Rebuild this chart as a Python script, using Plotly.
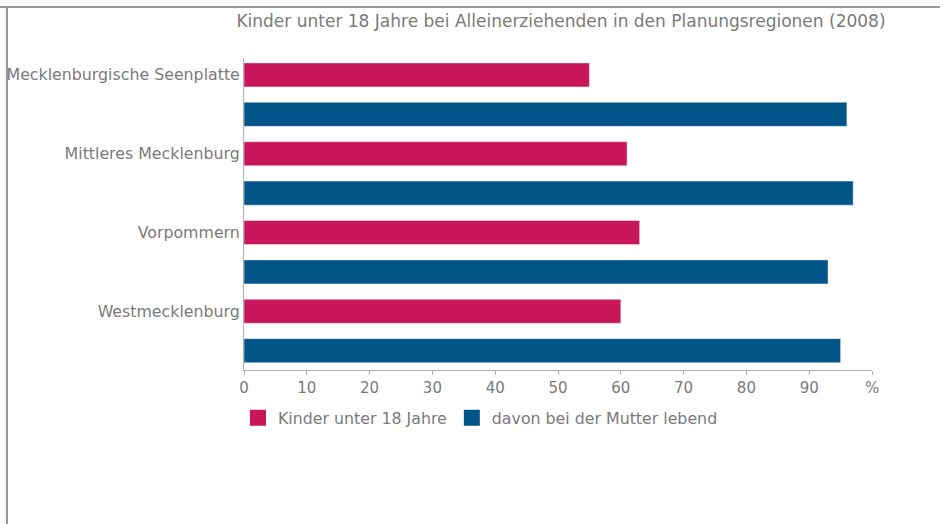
import plotly.graph_objects as go

regions = ["Mecklenburgische Seenplatte", "Mittleres Mecklenburg", "Vorpommern", "Westmecklenburg"]
kinder = [55, 61, 63, 60]
mutter = [96, 97, 93, 95]
series_names = ["Kinder unter 18 Jahre", "davon bei der Mutter lebend"]
x_ticks = [0, 10, 20, 30, 40, 50, 60, 70, 80, 90, 100]
x_ticktext = ["0", "10", "20", "30", "40", "50", "60", "70", "80", "90", "%"]

PINK = "#C8175B"
BLUE = "#025589"
FONT = "DejaVu Sans"
GREY = "#7a7a7a"

pink_pos = [2 * i for i in range(len(regions))]
blue_pos = [2 * i + 1 for i in range(len(regions))]

fig = go.Figure()
fig.add_trace(go.Bar(x=kinder, y=pink_pos, orientation="h", marker_color=PINK,
                     width=0.61, name=series_names[0], showlegend=False))
fig.add_trace(go.Bar(x=mutter, y=blue_pos, orientation="h", marker_color=BLUE,
                     width=0.61, name=series_names[1], showlegend=False))
# legend entries
for nm, col in zip(series_names, [PINK, BLUE]):
    fig.add_trace(go.Scatter(x=[None], y=[None], mode="markers", name=nm,
                             marker=dict(symbol="square", size=16, color=col)))

fig.update_layout(
    width=940, height=524,
    margin=dict(l=244, r=68, t=58, b=154),
    paper_bgcolor="white", plot_bgcolor="white",
    font=dict(family=FONT, size=15, color=GREY),
    title=dict(text="Kinder unter 18 Jahre bei Alleinerziehenden in den Planungsregionen (2008)",
               x=561 / 940, xanchor="center", xref="container",
               y=1 - 21 / 524, yanchor="middle", yref="container",
               font=dict(family=FONT, size=17, color=GREY)),
    xaxis=dict(range=[0, 100], tickvals=x_ticks, ticktext=x_ticktext,
               showgrid=False, zeroline=False, showline=True, linecolor="#b0b0b0",
               linewidth=1, ticks="outside", ticklen=4, tickcolor="#b0b0b0",
               automargin=False, tickfont=dict(size=15, color=GREY)),
    yaxis=dict(range=[7.49, -0.43], tickvals=pink_pos, ticktext=regions,
               showgrid=False, zeroline=False, showline=True, linecolor="#b0b0b0",
               linewidth=1, ticks="", ticklabelstandoff=0, automargin=False,
               tickfont=dict(size=15.8, color=GREY)),
    legend=dict(orientation="h", x=238 / 940, xref="container", xanchor="left",
                y=1 - 418 / 524, yref="container", yanchor="middle",
                font=dict(size=15.8, color=GREY), itemwidth=30,
                tracegroupgap=0),
    showlegend=True,
    shapes=[
        dict(type="line", xref="paper", yref="paper", x0=-244 / 628, x1=1 + 70 / 628,
             y0=1 + (58 - 7) / 312, y1=1 + (58 - 7) / 312, line=dict(color="#999999", width=2)),
        dict(type="line", xref="paper", yref="paper", x0=-(244 - 7) / 628, x1=-(244 - 7) / 628,
             y0=1 + (58 - 6) / 312, y1=-170 / 312, line=dict(color="#999999", width=2)),
    ],
)

fig.write_html("out.html", config={"displayModeBar": False},
               post_script="document.body.style.margin='0';document.body.style.overflow='hidden';")
